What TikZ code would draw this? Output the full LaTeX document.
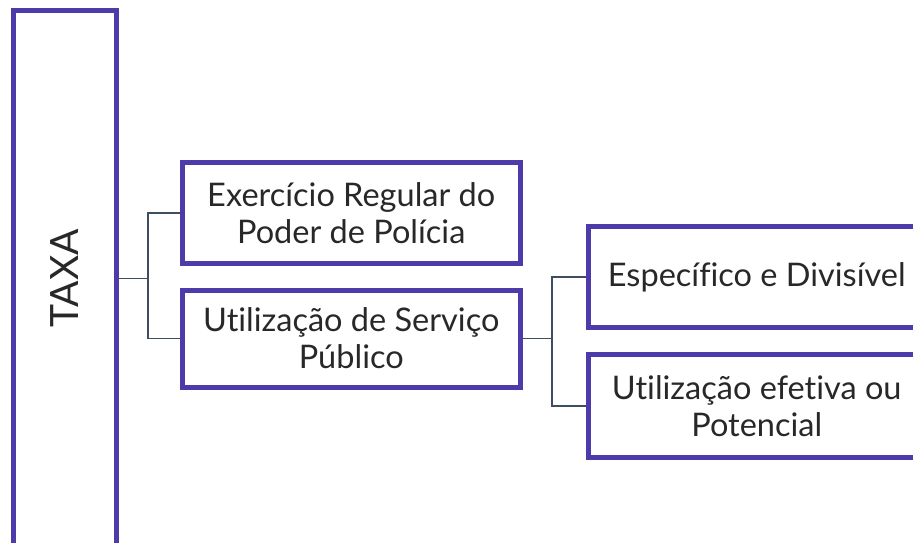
\documentclass[tikz,border=0pt]{standalone}
\usepackage{fontspec}
\setmainfont[Ligatures=NoCommon]{Lato}
\definecolor{boxpurple}{RGB}{78,58,168}
\definecolor{linkgray}{RGB}{62,78,96}
\definecolor{textgray}{RGB}{40,40,40}
\begin{document}
\begin{tikzpicture}[x=1pt,y=-1pt,
  box/.style={draw=boxpurple, line width=5pt, inner sep=0pt, align=center,
    text=textgray, font=\fontsize{32.5}{37}\selectfont},
  link/.style={draw=linkgray, line width=1.6pt}]
\useasboundingbox (0,0) rectangle (913,542);
\clip (0,0) rectangle (913,542);
\fill[white] (0,0) rectangle (913,542);
\node[box, minimum width=102.5pt, minimum height=536pt,
  font=\fontsize{39}{44}\selectfont] (taxa) at (64.75,278.5) {\rotatebox{90}{TAXA}};
\node[box, minimum width=337.5pt, minimum height=100.5pt] (b1) at (351.25,213)
  {Exercício Regular do\\Poder de Polícia};
\node[box, minimum width=337.5pt, minimum height=97pt] (b2) at (351.25,338.5)
  {Utilização de Serviço\\Público};
\node[box, minimum width=337.5pt, minimum height=101pt] (b3) at (756.75,277)
  {Específico e Divisível};
\node[box, minimum width=337.5pt, minimum height=102.5pt] (b4) at (756.75,406)
  {Utilização efetiva ou\\Potencial};
\coordinate (j1) at (148,0);
\coordinate (j2) at (552,0);
\draw[link] (taxa.east) -- (taxa.east -| j1);
\draw[link] (b1.west) -- (j1 |- b1.west) -- (j1 |- b2.west) -- (b2.west);
\draw[link] (b2.east) -- (b2.east -| j2);
\draw[link] (b3.west) -- (j2 |- b3.west) -- (j2 |- b4.west) -- (b4.west);
\end{tikzpicture}
\end{document}
